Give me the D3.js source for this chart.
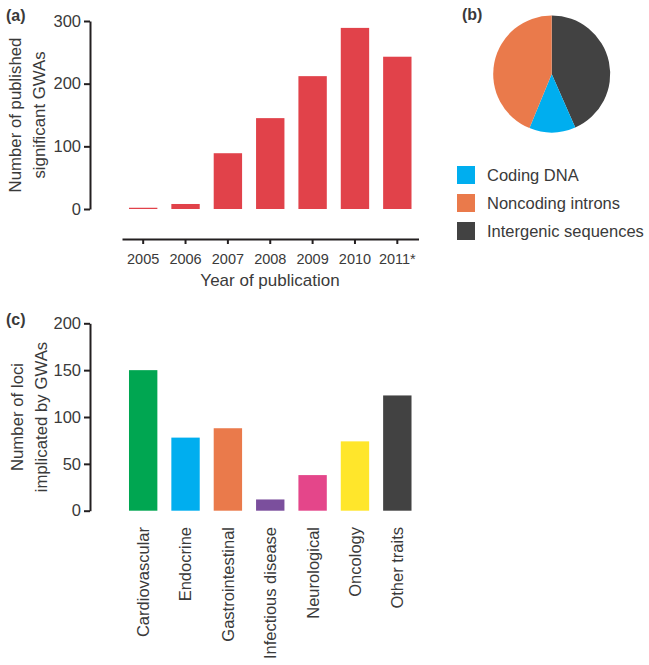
<!DOCTYPE html>
<html><head><meta charset="utf-8">
<script src="https://cdn.jsdelivr.net/npm/d3@7"></script>
<style>
html,body{margin:0;padding:0;background:#fff;}
text{font-family:"Liberation Sans",Arial,Helvetica,sans-serif;fill:#3a3a3a;}
</style></head>
<body>
<svg id="chart" width="649" height="665"></svg>
<script>
// Panel (a)
const years = ["2005","2006","2007","2008","2009","2010","2011*"];
const gwaCounts = [2, 8, 89, 145, 212, 289, 243];
const yTicksA = [0, 100, 200, 300];

// Panel (b)
const regionLabels = ["Intergenic sequences", "Coding DNA", "Noncoding introns"];
const regionShares = [43.4, 12.8, 43.8];
const regionColors = ["#424242", "#00aeef", "#ea7a4b"];
const legendOrder = ["Coding DNA", "Noncoding introns", "Intergenic sequences"];

// Panel (c)
const traits = ["Cardiovascular","Endocrine","Gastrointestinal","Infectious disease","Neurological","Oncology","Other traits"];
const lociCounts = [150, 78, 88, 12, 38, 74, 123];
const traitColors = ["#00a651","#00aeef","#ea7a4b","#7b4f9d","#e4468a","#ffe62b","#424242"];
const yTicksC = [0, 50, 100, 150, 200];

const svg = d3.select("#chart");
const axisColor = "#231f20";
const fs = "16.5px";

// ---------- Panel (a) ----------
const xA = d3.scaleBand().domain(years).range([122, 418.5]).paddingInner(0.33).paddingOuter(0.165);
const yA = d3.scaleLinear().domain([0, 300]).range([209, 21]);
const gA = svg.append("g");
gA.selectAll("rect.bar").data(gwaCounts).join("rect")
  .attr("x", (d,i) => xA(years[i])).attr("width", xA.bandwidth())
  .attr("y", d => yA(d)).attr("height", d => Math.max(1.2, yA(0) - yA(d)))
  .attr("fill", "#e1424a");

const yAxisA = gA.append("g").attr("transform", "translate(90,0)")
  .call(d3.axisLeft(yA).tickValues(yTicksA).tickSize(6).tickPadding(3).tickSizeOuter(0));
const xAxisA = gA.append("g").attr("transform", "translate(0,239)")
  .call(d3.axisBottom(xA).tickSize(5).tickPadding(10).tickSizeOuter(0));
[yAxisA, xAxisA].forEach(ax => {
  ax.select(".domain").attr("stroke", axisColor).attr("stroke-width", 2);
  ax.selectAll(".tick line").attr("stroke", axisColor).attr("stroke-width", 2);
});
yAxisA.selectAll(".tick text").style("font-size", fs).attr("fill", "#3a3a3a");
xAxisA.selectAll(".tick text").style("font-size", "14.5px").attr("fill", "#3a3a3a");
gA.append("text").attr("x", 270).attr("y", 286).attr("text-anchor", "middle")
  .style("font-size", "17px").text("Year of publication");
const tA = gA.append("text").attr("transform", "translate(21,115) rotate(-90)")
  .attr("text-anchor", "middle").style("font-size", "16.8px");
tA.append("tspan").attr("x", 0).attr("y", 0).text("Number of published");
tA.append("tspan").attr("x", 0).attr("y", 23.5).text("significant GWAs");
svg.append("text").attr("x", 6).attr("y", 21).style("font-size", "16px").style("font-weight", "bold").text("(a)");

// ---------- Panel (b) ----------
const pie = d3.pie().sort(null).value(d => d)(regionShares);
const arc = d3.arc().innerRadius(0).outerRadius(58.5);
const gB = svg.append("g").attr("transform", "translate(551.7,74)");
gB.selectAll("path").data(pie).join("path").attr("d", arc)
  .attr("fill", (d,i) => regionColors[i]);
svg.append("text").attr("x", 462).attr("y", 20).style("font-size", "16px").style("font-weight", "bold").text("(b)");
const legY = d3.scalePoint().domain(legendOrder).range([166, 222]);
const gL = svg.append("g");
legendOrder.forEach(name => {
  const idx = regionLabels.indexOf(name);
  gL.append("rect").attr("x", 457).attr("y", legY(name)).attr("width", 18).attr("height", 18)
    .attr("fill", regionColors[idx]);
  gL.append("text").attr("x", 487).attr("y", legY(name) + 15).style("font-size", fs).text(name);
});

// ---------- Panel (c) ----------
const xC = d3.scaleBand().domain(traits).range([122, 418.5]).paddingInner(0.33).paddingOuter(0.165);
const yC = d3.scaleLinear().domain([0, 200]).range([510.7, 323.3]);
const gC = svg.append("g");
gC.selectAll("rect.bar").data(lociCounts).join("rect")
  .attr("x", (d,i) => xC(traits[i])).attr("width", xC.bandwidth())
  .attr("y", d => yC(d)).attr("height", d => yC(0) - yC(d))
  .attr("fill", (d,i) => traitColors[i]);
const yAxisC = gC.append("g").attr("transform", "translate(90,0)")
  .call(d3.axisLeft(yC).tickValues(yTicksC).tickSize(6).tickPadding(3).tickSizeOuter(0));
yAxisC.select(".domain").attr("stroke", axisColor).attr("stroke-width", 2);
yAxisC.selectAll(".tick line").attr("stroke", axisColor).attr("stroke-width", 2);
yAxisC.selectAll(".tick text").style("font-size", fs).attr("fill", "#3a3a3a");
gC.selectAll("text.cat").data(traits).join("text").attr("class", "cat")
  .attr("transform", d => `translate(${xC(d) + xC.bandwidth()/2},527) rotate(-90)`)
  .attr("text-anchor", "end").attr("dy", "0.36em").style("font-size", fs).text(d => d);
const tC = gC.append("text").attr("transform", "translate(23,417) rotate(-90)")
  .attr("text-anchor", "middle").style("font-size", "16.8px");
tC.append("tspan").attr("x", 0).attr("y", 0).text("Number of loci");
tC.append("tspan").attr("x", 0).attr("y", 23.5).text("implicated by GWAs");
svg.append("text").attr("x", 6).attr("y", 325).style("font-size", "16px").style("font-weight", "bold").text("(c)");
</script>
</body></html>
